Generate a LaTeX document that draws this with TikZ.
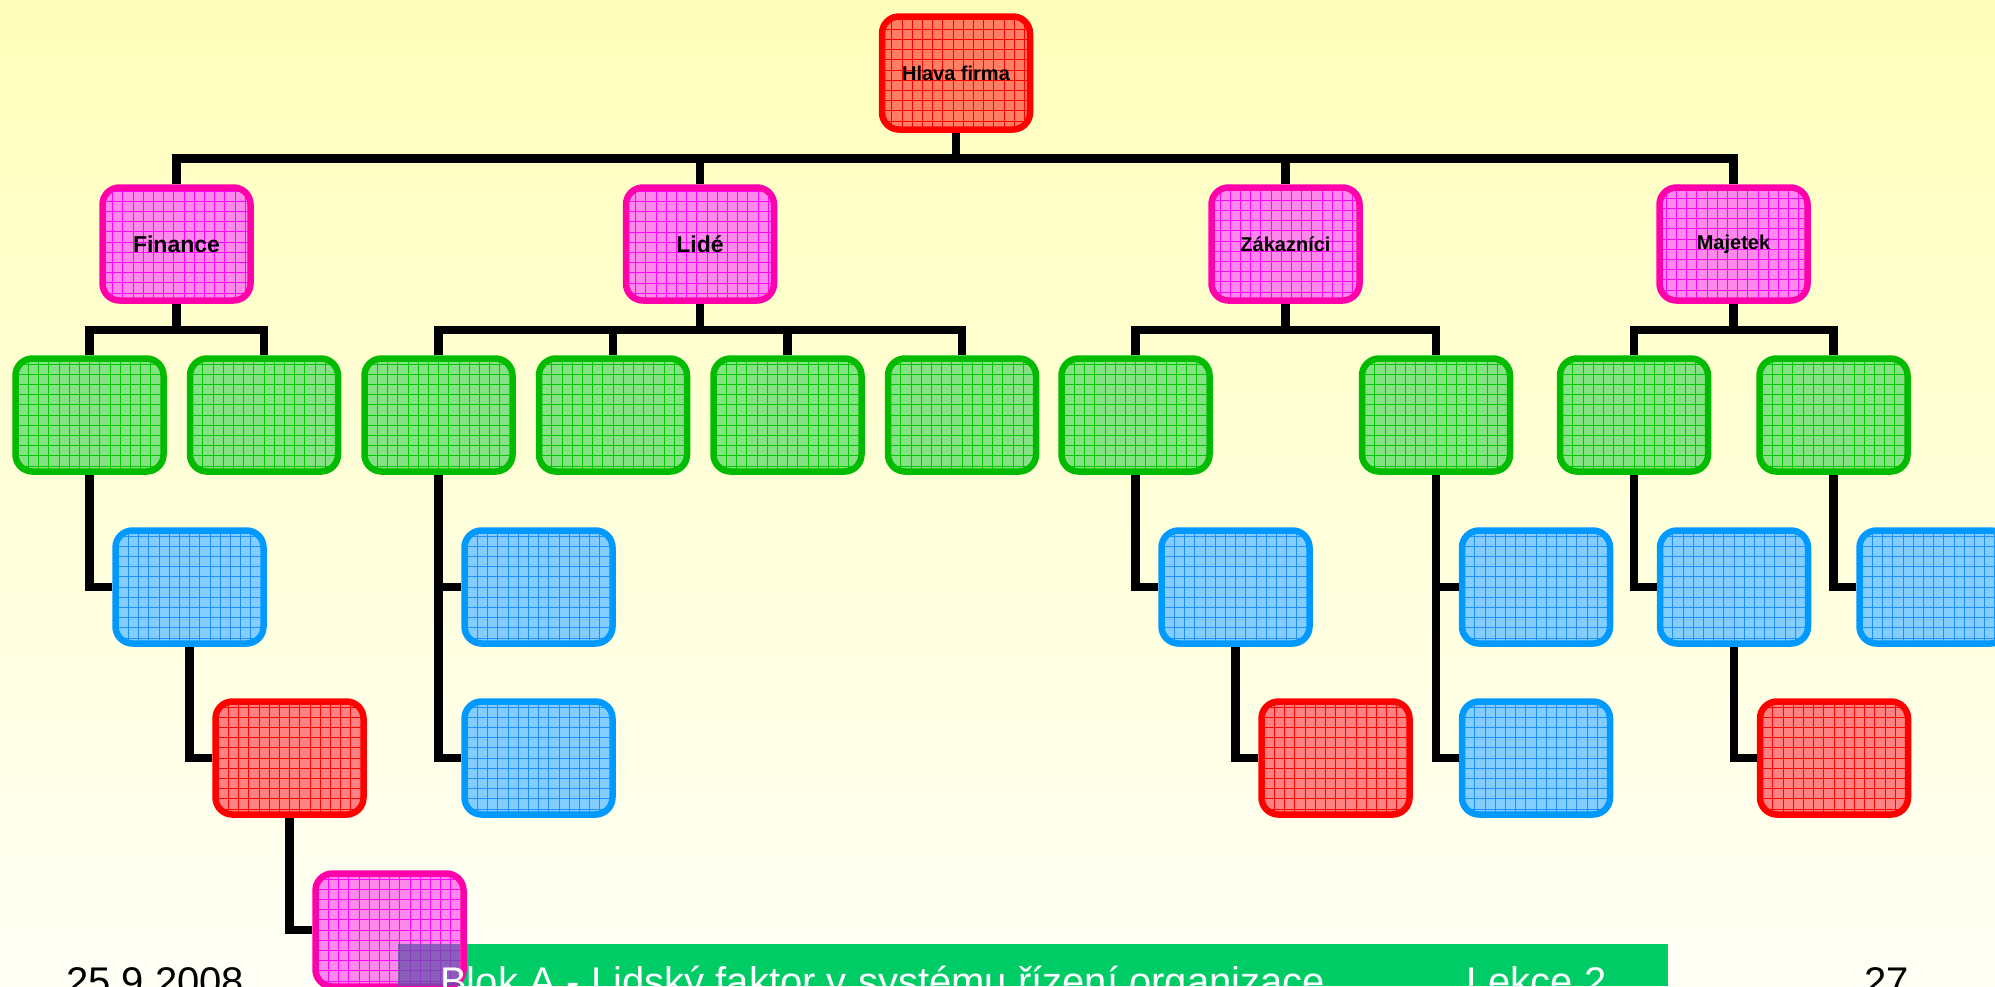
\documentclass[tikz,border=0pt]{standalone}
\usepackage{fontspec}
\setmainfont{Liberation Sans}
\definecolor{bgtop}{RGB}{255,255,187}
\definecolor{bgbottom}{RGB}{255,255,246}
\definecolor{topline}{RGB}{255,0,0}
\definecolor{topfill}{RGB}{255,126,100}
\definecolor{redline}{RGB}{255,0,0}
\definecolor{redfill}{RGB}{255,130,130}
\definecolor{pinkline}{RGB}{255,0,170}
\definecolor{pinkfill}{RGB}{255,136,236}
\definecolor{pinkmesh}{RGB}{255,0,255}
\definecolor{greenline}{RGB}{0,187,0}
\definecolor{greenfill}{RGB}{132,226,132}
\definecolor{greenmesh}{RGB}{0,200,0}
\definecolor{blueline}{RGB}{0,153,255}
\definecolor{bluefill}{RGB}{132,206,255}
\definecolor{bluemesh}{RGB}{30,144,255}
\definecolor{bannergreen}{RGB}{0,204,102}
\definecolor{logoviolet}{RGB}{100,80,170}
\tikzset{
  mesh/.style={path picture={\draw[#1,line width=.8pt,step=10.2pt]
    (path picture bounding box.south west) grid (path picture bounding box.north east);}},
  cell/.style={draw,rounded corners=17pt,line width=6.5pt,minimum width=148pt,
    minimum height=113pt,inner sep=0pt,font=\bfseries\fontsize{20}{24}\selectfont},
  topcell/.style={cell,draw=topline,fill=topfill,mesh=topline},
  redcell/.style={cell,draw=redline,fill=redfill,mesh=redline},
  pinkcell/.style={cell,draw=pinkline,fill=pinkfill,mesh=pinkmesh},
  greencell/.style={cell,draw=greenline,fill=greenfill,mesh=greenmesh},
  bluecell/.style={cell,draw=blueline,fill=bluefill,mesh=bluemesh},
  foot/.style={anchor=base west,inner sep=0pt,font=\fontsize{40}{48}\selectfont}
}
\begin{document}
\begin{tikzpicture}[x=1pt,y=-1pt]
  \useasboundingbox (0,0) rectangle (1995,986);
  \shade[top color=bgtop,bottom color=bgbottom] (0,0) rectangle (1995,986);
  \fill[bannergreen] (398,944) rectangle (1668,986);
  \path
    (956,73) node[topcell] (hlava) {Hlava firma}
    (176.5,244) node[pinkcell,font=\bfseries\fontsize{23}{27}\selectfont] (fin) {Finance}
    (700,244) node[pinkcell,font=\bfseries\fontsize{23}{27}\selectfont] (lid) {Lidé}
    (1285.5,244) node[pinkcell] (zak) {Zákazníci}
    (1733.5,244) node[pinkcell] (maj) {Majetek}
    (89.5,415) node[greencell] (fin1) {}
    (264,415) node[greencell] (fin2) {}
    (438.5,415) node[greencell] (lid1) {}
    (613,415) node[greencell] (lid2) {}
    (787.5,415) node[greencell] (lid3) {}
    (962,415) node[greencell] (lid4) {}
    (1135.5,415) node[greencell] (zak1) {}
    (1436,415) node[greencell] (zak2) {}
    (1634,415) node[greencell] (maj1) {}
    (1833.5,415) node[greencell] (maj2) {}
    (189.5,587) node[bluecell] (fin1a) {}
    (538.5,587) node[bluecell] (lid1a) {}
    (538.5,758) node[bluecell] (lid1b) {}
    (1235.5,587) node[bluecell] (zak1a) {}
    (1536,587) node[bluecell] (zak2a) {}
    (1536,758) node[bluecell] (zak2b) {}
    (1734,587) node[bluecell] (maj1a) {}
    (1933.5,587) node[bluecell] (maj2a) {}
    (289.5,758) node[redcell] (fin1aa) {}
    (1335.5,758) node[redcell] (zak1aa) {}
    (1834,758) node[redcell] (maj1aa) {}
    (389.5,930) node[pinkcell] (fin1aaa) {};
  \coordinate (bus0) at (956,158.5);
  \coordinate (busfin) at (176.5,330);
  \coordinate (buslid) at (700,330);
  \coordinate (buszak) at (1285.5,330);
  \coordinate (busmaj) at (1733.5,330);
  \begin{scope}[line width=8.5pt]
    \draw (hlava) -- (bus0);
    \draw (fin.north) |- (bus0);
    \draw (lid.north) |- (bus0);
    \draw (zak.north) |- (bus0);
    \draw (maj.north) |- (bus0);
    \draw (fin) -- (busfin);
    \draw (fin1.north) |- (busfin);
    \draw (fin2.north) |- (busfin);
    \draw (lid) -- (buslid);
    \draw (lid1.north) |- (buslid);
    \draw (lid2.north) |- (buslid);
    \draw (lid3.north) |- (buslid);
    \draw (lid4.north) |- (buslid);
    \draw (zak) -- (buszak);
    \draw (zak1.north) |- (buszak);
    \draw (zak2.north) |- (buszak);
    \draw (maj) -- (busmaj);
    \draw (maj1.north) |- (busmaj);
    \draw (maj2.north) |- (busmaj);
    \draw (fin1.south) |- (fin1a.west);
    \draw (fin1a.south) |- (fin1aa.west);
    \draw (fin1aa.south) |- (fin1aaa.west);
    \draw (lid1.south) |- (lid1a.west);
    \draw (lid1.south) |- (lid1b.west);
    \draw (zak1.south) |- (zak1a.west);
    \draw (zak1a.south) |- (zak1aa.west);
    \draw (zak2.south) |- (zak2a.west);
    \draw (zak2.south) |- (zak2b.west);
    \draw (maj1.south) |- (maj1a.west);
    \draw (maj1a.south) |- (maj1aa.west);
    \draw (maj2.south) |- (maj2a.west);
  \end{scope}
  % logo square under the last box
  \fill[logoviolet,opacity=.75] (398,944) rectangle (459.5,986);
  \node[foot] (datum) at (66,995) {25.9.2008};
  \node[foot,text=white] (blok) at (440,995) {Blok A - Lidský faktor v systému řízení organizace};
  \node[foot,text=white] (lekce) at (1466,995) {Lekce 2};
  \node[foot] (strana) at (1864,995) {27};
\end{tikzpicture}
\end{document}
